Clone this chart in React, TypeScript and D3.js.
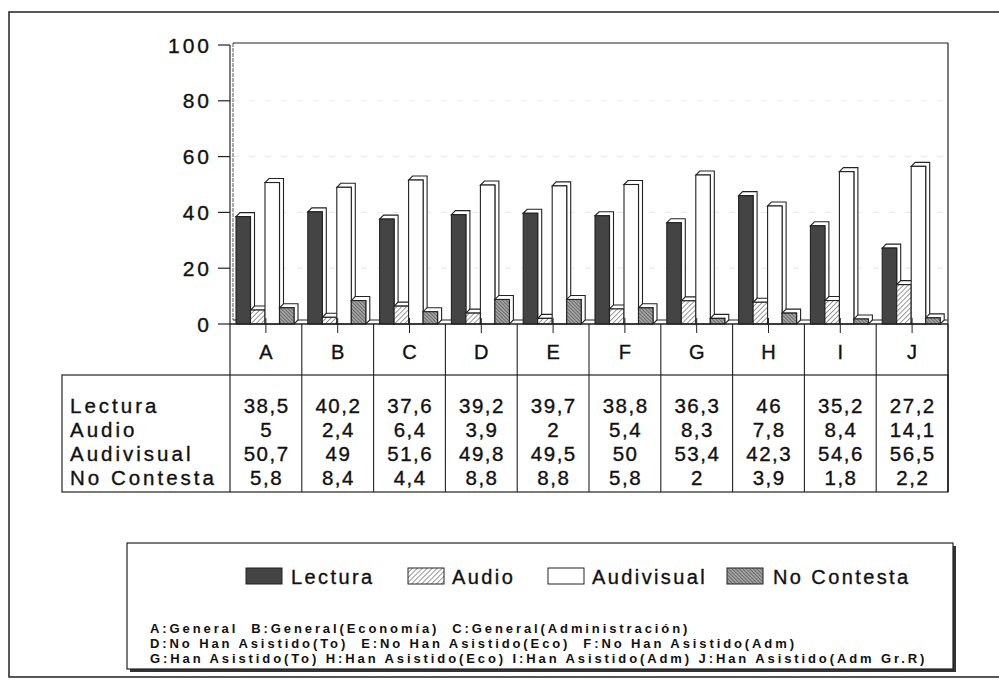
import React from 'react';
import * as d3 from 'd3';

const categories = ['A', 'B', 'C', 'D', 'E', 'F', 'G', 'H', 'I', 'J'];
const seriesNames = ['Lectura', 'Audio', 'Audivisual', 'No Contesta'];
const lectura = [38.5, 40.2, 37.6, 39.2, 39.7, 38.8, 36.3, 46, 35.2, 27.2];
const audio = [5, 2.4, 6.4, 3.9, 2, 5.4, 8.3, 7.8, 8.4, 14.1];
const audivisual = [50.7, 49, 51.6, 49.8, 49.5, 50, 53.4, 42.3, 54.6, 56.5];
const noContesta = [5.8, 8.4, 4.4, 8.8, 8.8, 5.8, 2, 3.9, 1.8, 2.2];
const yTicks = [0, 20, 40, 60, 80, 100];
const descLines = [
  'A:General  B:General(Economía)  C:General(Administración)',
  'D:No Han Asistido(To)  E:No Han Asistido(Eco)  F:No Han Asistido(Adm)',
  'G:Han Asistido(To) H:Han Asistido(Eco) I:Han Asistido(Adm) J:Han Asistido(Adm Gr.R)',
];

const seriesValues = [lectura, audio, audivisual, noContesta];
const fills = ['#444444', 'url(#hatchAudio)', '#ffffff', 'url(#hatchNC)'];

const FONT = '"Liberation Sans", Arial, Helvetica, sans-serif';
const fmt = (v: number) => String(v).replace('.', ',');
const INK = '#111';

export default function App() {
  const W = 999, H = 682;
  const x0 = 230, x1 = 948;
  const y = d3.scaleLinear().domain([0, 100]).range([324, 45]);
  const y0 = y(0);
  const xBand = d3.scaleBand<string>().domain(categories).range([x0, x1]).padding(0);
  const cw = xBand.bandwidth();
  const xInner = d3.scaleBand<string>().domain(seriesNames).range([6, 64]).padding(0);
  const bw = xInner.bandwidth();
  const d = 4;

  const tableTop = 375, tableBottom = 492, tableLeft = 62;
  const rowBand = d3.scaleBand<string>().domain(seriesNames).range([393, 490]);

  const legendSw = [
    { x: 246, tx: 291 },
    { x: 408, tx: 452 },
    { x: 548, tx: 592 },
    { x: 727, tx: 773 },
  ];

  const heavy = { stroke: INK, strokeWidth: 0.35 } as const;

  return (
    <svg width={W} height={H} style={{ position: 'absolute', left: 0, top: 0, background: '#fff' }} fontFamily={FONT}>
      <defs>
        <pattern id="hatchAudio" patternUnits="userSpaceOnUse" width="3.5" height="3.5" patternTransform="rotate(45)">
          <rect width="3.5" height="3.5" fill="#fff" />
          <line x1="0" y1="0" x2="0" y2="3.5" stroke="#333" strokeWidth="1" />
        </pattern>
        <pattern id="hatchNC" patternUnits="userSpaceOnUse" width="2.5" height="2.5" patternTransform="rotate(-45)">
          <rect width="2.5" height="2.5" fill="#a0a0a0" />
          <line x1="0" y1="0" x2="0" y2="2.5" stroke="#444" strokeWidth="1" />
        </pattern>
      </defs>

      {/* outer frame */}
      <path d={`M1000,12 L9,12 L9,677 L1000,677`} fill="none" stroke="#222" strokeWidth={1.5} />

      {/* faint grid */}
      {yTicks.slice(1, 5).map(t => (
        <line key={'g' + t} x1={x0 + 3} x2={x1} y1={y(t)} y2={y(t)} stroke="#e8e8e8" strokeDasharray="6 10" />
      ))}

      {/* plot walls */}
      <line x1={x0} x2={x0} y1={y(100)} y2={tableBottom} stroke="#222" strokeWidth={1.2} />
      <line x1={x0 + 3} x2={x0 + 3} y1={y(100) - 2} y2={y0 - d} stroke="#555" strokeWidth={1} strokeDasharray="4 1" />
      <line x1={x0 + 3} x2={x1} y1={y(100) - 2} y2={y(100) - 2} stroke="#222" strokeWidth={1.2} />
      <line x1={x1} x2={x1} y1={y(100) - 2} y2={tableBottom} stroke="#222" strokeWidth={1.2} />

      {/* y ticks */}
      {yTicks.map(t => (
        <g key={'t' + t}>
          <line x1={218} x2={x0} y1={y(t)} y2={y(t)} stroke="#222" strokeWidth={1.2} />
          <text x={212} y={y(t)} dy="0.36em" textAnchor="end" fontSize={21} fill={INK} letterSpacing={3} {...heavy}>{t}</text>
        </g>
      ))}

      {/* floor */}
      <line x1={x0 + 3} x2={x1} y1={y0 - d} y2={y0 - d} stroke="#222" strokeWidth={1} />

      {/* bars */}
      {categories.map((c, i) => (
        <g key={c}>
          {seriesNames.map((s, j) => {
            const v = seriesValues[j][i];
            const bx = (xBand(c) as number) + (xInner(s) as number);
            const by = y(v);
            const hex = `M${bx},${by} L${bx + d},${by - d} L${bx + bw + d},${by - d} L${bx + bw + d},${y0 - d} L${bx + bw},${y0} L${bx + bw},${by} Z`;
            return (
              <g key={s}>
                <path d={hex} fill="#fff" stroke="#222" strokeWidth={1.1} />
                <rect x={bx} y={by} width={bw} height={y0 - by} fill={fills[j]} stroke="#222" strokeWidth={1.1} />
              </g>
            );
          })}
        </g>
      ))}

      {/* zero line */}
      <line x1={x0} x2={x1} y1={y0} y2={y0} stroke="#222" strokeWidth={1.5} />

      {/* category ticks, separators and labels */}
      {categories.map(c => {
        const cx = (xBand(c) as number) + cw / 2;
        return (
          <g key={'c' + c}>
            <line x1={cx} x2={cx} y1={y0 - 6} y2={y0 + 9} stroke="#222" strokeWidth={1} />
            <line x1={(xBand(c) as number) + cw} x2={(xBand(c) as number) + cw} y1={y0} y2={tableBottom} stroke="#222" strokeWidth={1.1} />
            <text x={cx} y={352} dy="0.36em" textAnchor="middle" fontSize={20} fill={INK} {...heavy}>{c}</text>
          </g>
        );
      })}

      {/* table */}
      <rect x={tableLeft} y={tableTop} width={x1 - tableLeft} height={tableBottom - tableTop} fill="none" stroke="#222" strokeWidth={1.2} />
      {seriesNames.map((s, j) => {
        const ry = (rowBand(s) as number) + rowBand.bandwidth() / 2;
        return (
          <g key={'r' + s}>
            <text x={70} y={ry} dy="0.36em" fontSize={20.5} fill={INK} letterSpacing={3} {...heavy}>{s}</text>
            {categories.map((c, i) => (
              <text key={c} x={(xBand(c) as number) + cw / 2 + 0.7} y={ry} dy="0.36em" textAnchor="middle" fontSize={20.5} fill={INK} letterSpacing={1.5} {...heavy}>
                {fmt(seriesValues[j][i])}
              </text>
            ))}
          </g>
        );
      })}

      {/* legend */}
      <rect x={130} y={546} width={826} height={126} fill="#333" />
      <rect x={127} y={543} width={826} height={126} fill="#fff" stroke="#222" strokeWidth={1.2} />
      {seriesNames.map((s, j) => (
        <g key={'l' + s}>
          <rect x={legendSw[j].x} y={568} width={36} height={16} fill={fills[j]} stroke="#222" strokeWidth={1} />
          <text x={legendSw[j].tx} y={577} dy="0.36em" fontSize={20} fill={INK} letterSpacing={2.4} {...heavy}>{s}</text>
        </g>
      ))}
      {descLines.map((t, k) => (
        <text key={'d' + k} x={150} y={628 + k * 15} dy="0.36em" fontSize={13} fontWeight="bold" fill={INK} letterSpacing={2.9} style={{ whiteSpace: 'pre' }}>{t}</text>
      ))}
    </svg>
  );
}
